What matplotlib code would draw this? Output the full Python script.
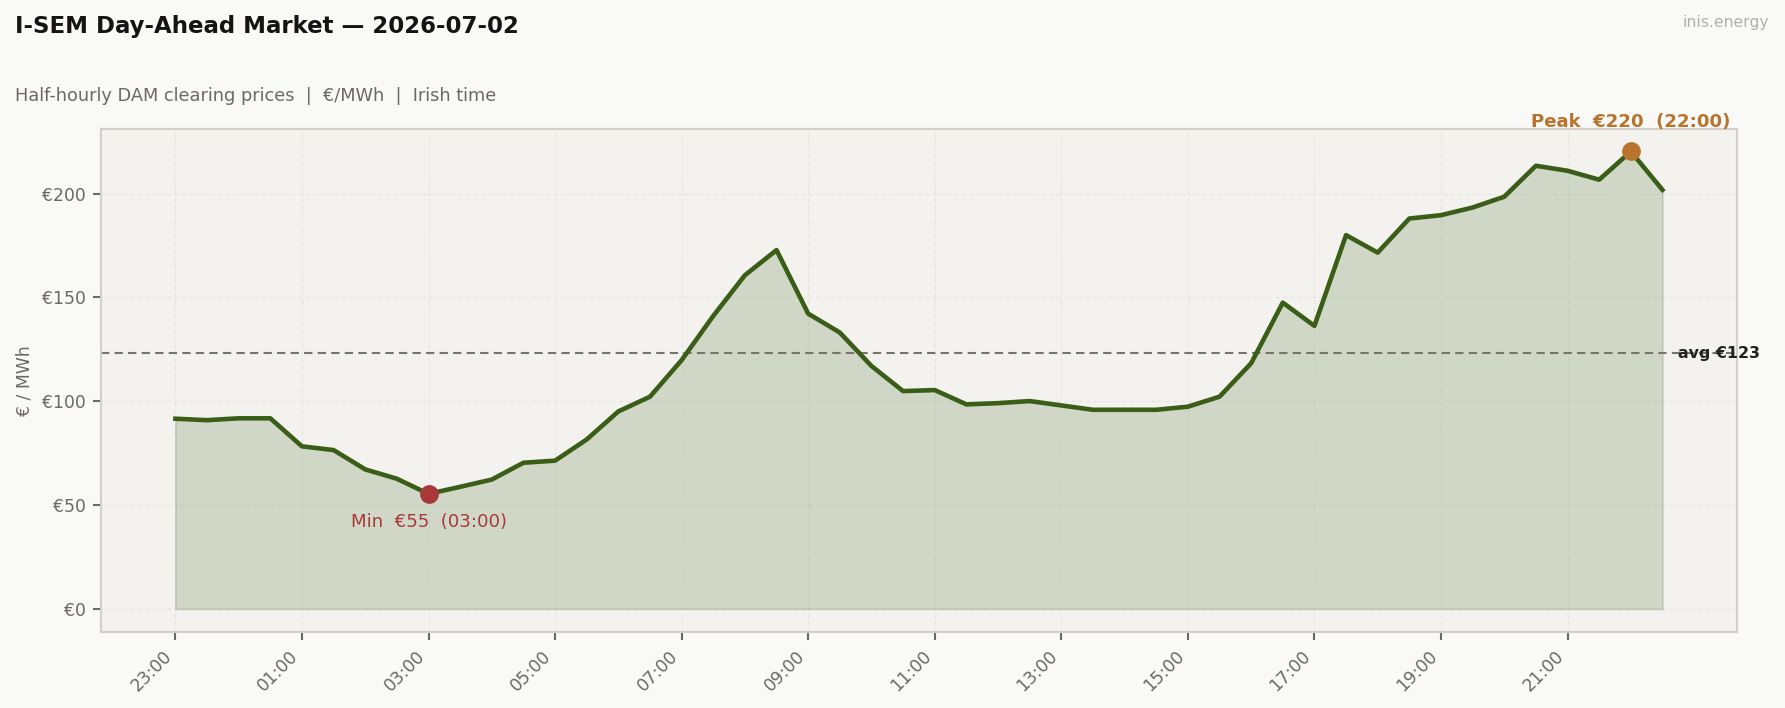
import numpy as np
import matplotlib
matplotlib.use("Agg")
import matplotlib.pyplot as plt

# half-hourly slots, 23:00 (previous day) to 22:30
slot_labels = ["23:00", "23:30", "00:00", "00:30", "01:00", "01:30", "02:00", "02:30",
               "03:00", "03:30", "04:00", "04:30", "05:00", "05:30", "06:00", "06:30",
               "07:00", "07:30", "08:00", "08:30", "09:00", "09:30", "10:00", "10:30",
               "11:00", "11:30", "12:00", "12:30", "13:00", "13:30", "14:00", "14:30",
               "15:00", "15:30", "16:00", "16:30", "17:00", "17:30", "18:00", "18:30",
               "19:00", "19:30", "20:00", "20:30", "21:00", "21:30", "22:00", "22:30"]
prices = [91.6, 90.9, 91.8, 91.8, 78.3, 76.5, 67.2, 62.7,
          55.4, 58.8, 62.3, 70.4, 71.4, 81.6, 95.1, 102.2,
          119.8, 141.1, 160.7, 172.8, 142.2, 133.1, 117.0, 104.9,
          105.4, 98.5, 99.1, 100.1, 98.0, 95.9, 95.9, 95.9,
          97.4, 102.2, 118.3, 147.5, 136.3, 180.0, 171.6, 188.0,
          189.6, 193.3, 198.5, 213.4, 211.0, 206.7, 220.3, 201.8]

LINE = "#3a5e17"
FIG_BG = "#f9f9f7"
AX_BG = "#f3f2ee"
GREY = "#6e6864"
MIN_C = "#a8393b"
PEAK_C = "#b8732d"

x = np.arange(len(prices))
y = np.array(prices)
avg = y.mean()
imin = int(np.argmin(y))
imax = int(np.argmax(y))

fig = plt.figure(figsize=(11.9, 4.72), dpi=150, facecolor=FIG_BG)
ax = fig.add_axes([0.0566, 0.1076, 0.9164, 0.7108])
ax.set_facecolor(AX_BG)

ax.fill_between(x, 0, y, color=LINE, alpha=0.18, linewidth=0.8)
ax.plot(x, y, color=LINE, lw=2.2, zorder=3)
ax.axhline(avg, color="#77736e", lw=1.0, ls=(0, (4, 2.5)), zorder=2)
ax.text(len(x) - 1 + 0.5, avg, "avg \u20ac%d" % round(avg), va="center", ha="left",
        fontsize=7.6, fontweight="bold", color="#222222", clip_on=False)

ax.plot(x[imin], y[imin], "o", color=MIN_C, ms=8, zorder=4)
ax.annotate("Min  \u20ac%d  (%s)" % (round(y[imin]), slot_labels[imin]),
            (x[imin], y[imin]), xytext=(0, -9), textcoords="offset points",
            ha="center", va="top", fontsize=8.7, color=MIN_C)
ax.plot(x[imax], y[imax], "o", color=PEAK_C, ms=8, zorder=4)
ax.annotate("Peak  \u20ac%d  (%s)" % (round(y[imax]), slot_labels[imax]),
            (x[imax], y[imax]), xytext=(0, 10), textcoords="offset points",
            ha="center", va="bottom", fontsize=8.7, fontweight="bold", color=PEAK_C,
            annotation_clip=False)

ax.set_xlim(-0.05 * (len(x) - 1), (len(x) - 1) * 1.05)
ax.set_ylim(-0.05 * y.max(), 1.05 * y.max())
ax.set_xticks(x[::4])
ax.set_xticklabels(slot_labels[::4], rotation=45, ha="right", fontsize=8.3, color=GREY)
ax.set_yticks([0, 50, 100, 150, 200])
ax.set_yticklabels(["\u20ac0", "\u20ac50", "\u20ac100", "\u20ac150", "\u20ac200"],
                   fontsize=8.3, color=GREY)
ax.tick_params(colors=GREY, length=4, width=1)
ax.set_ylabel("\u20ac / MWh", fontsize=8.3, color=GREY)
ax.grid(True, color="#e6e3de", lw=0.5, ls=(0, (4, 3)))
ax.set_axisbelow(True)
for s in ax.spines.values():
    s.set_color("#d2cec8")
    s.set_linewidth(1.0)

fig.text(0.0084, 0.953, "I-SEM Day-Ahead Market \u2014 2026-07-02", fontsize=11,
         fontweight="bold", color="#161412", ha="left", va="baseline")
fig.text(0.0084, 0.857, "Half-hourly DAM clearing prices  |  \u20ac/MWh  |  Irish time",
         fontsize=8.5, color=GREY, ha="left", va="baseline")
fig.text(0.991, 0.962, "inis.energy", fontsize=7.5, color="#b3afab", ha="right", va="baseline")

fig.savefig("out.png", dpi=150, facecolor=FIG_BG)
